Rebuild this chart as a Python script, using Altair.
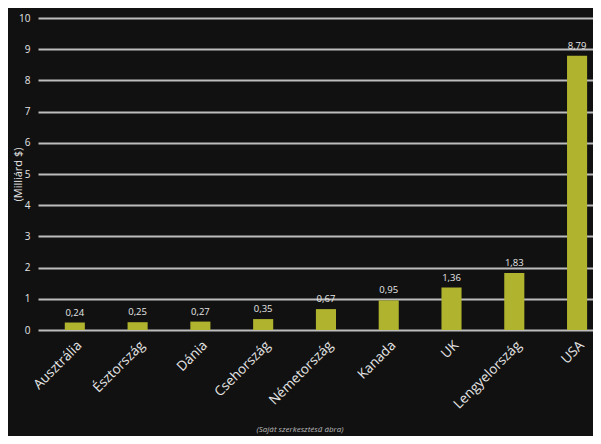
import altair as alt
import pandas as pd

countries = ["Ausztrália", "Észtország", "Dánia", "Csehország", "Németország",
             "Kanada", "UK", "Lengyelország", "USA"]
values = [0.24, 0.25, 0.27, 0.35, 0.67, 0.95, 1.36, 1.83, 8.79]
y_ticks = list(range(0, 11))
y_title = "(Milliárd $)"
footer = "(Saját szerkesztésű ábra)"

df = pd.DataFrame({"orszag": countries, "ertek": values})

FONT = "Open Sans"
BG = "#111111"
BAR = "#b0b32e"
TXT = "#e6e6e6"
GRID = "#bdbdbd"

x_enc = alt.X("orszag:N", sort=countries, title=None,
              scale=alt.Scale(paddingInner=0.68, paddingOuter=0.26, align=0.82),
              axis=alt.Axis(labelAngle=-45, labelColor=TXT, labelFontSize=13.5,
                            labelFont=FONT, labelPadding=8, ticks=False,
                            domain=False, grid=False, labelOverlap=False))
y_enc = alt.Y("ertek:Q", title=y_title,
              scale=alt.Scale(domain=[0, 10], nice=False),
              axis=alt.Axis(values=y_ticks, labelColor=TXT, labelFontSize=10,
                            labelFont=FONT, labelPadding=8, ticks=False,
                            domain=False, grid=True, gridColor=GRID,
                            gridWidth=2, titleColor=TXT, titleFont=FONT,
                            titleFontSize=11, titleFontWeight="normal",
                            titleAngle=-90, titleX=-20, titleY=156,
                            titleAlign="center", titleBaseline="middle",
                            labelOverlap=False))

base = alt.Chart(df)
bars = base.mark_bar(color=BAR).encode(x=x_enc, y=y_enc)
labels = base.transform_calculate(
    lbl="replace(format(datum.ertek, '.2f'), '.', ',')"
).mark_text(dy=-5, baseline="bottom", fontSize=9.5, font=FONT, color=TXT).encode(
    x=x_enc,
    y=y_enc,
    text="lbl:N",
)
foot = alt.Chart(pd.DataFrame({"t": [footer]})).mark_text(
    fontSize=8, font=FONT, fontStyle="italic", color="#bbbbbb", align="center",
    baseline="bottom"
).encode(x=alt.value(262), y=alt.value(416), text="t:N")

chart = alt.layer(bars, labels, foot).properties(
    width=555, height=312,
    autosize=alt.AutoSizeParams(type="none"),
    padding={"left": 30, "top": 10, "right": 0, "bottom": 106},
    background=BG,
).configure_view(stroke=None)

chart.save("out.html", embed_options={"renderer": "svg", "actions": False})
